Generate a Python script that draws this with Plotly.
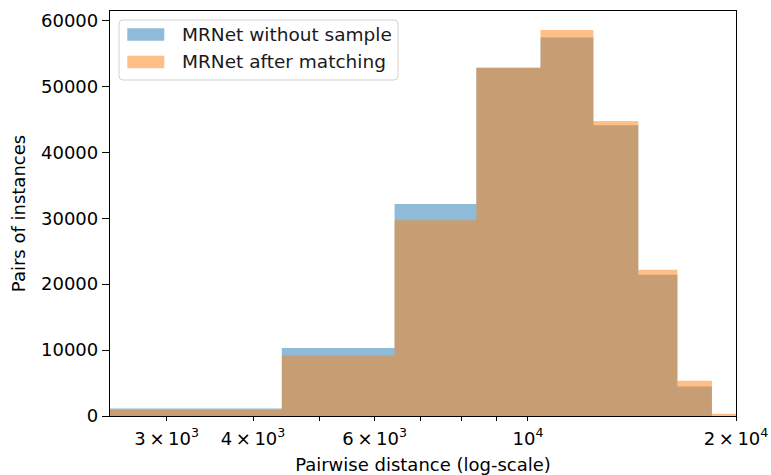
import plotly.graph_objects as go

# Histogram bin edges (linear bins, shown on a log x-axis)
bin_edges = [2395, 4403, 6411, 8419, 10427, 12435, 14443, 16451, 18459, 20467]
without_sample = [1150, 10300, 32170, 52820, 57420, 44090, 21410, 4480, 0]
after_matching = [910, 9180, 29700, 52820, 58530, 44740, 22170, 5350, 350]

series_names = ["MRNet without sample", "MRNet after matching"]
x_tick_vals = [3000, 4000, 6000, 10000, 20000]
x_tick_text = ["3\u2009×\u200910<sup>3</sup>", "4\u2009×\u200910<sup>3</sup>",
               "6\u2009×\u200910<sup>3</sup>", "10<sup>4</sup>",
               "2\u2009×\u200910<sup>4</sup>"]
x_minor_vals = [5000, 7000, 8000, 9000]
y_tick_vals = [0, 10000, 20000, 30000, 40000, 50000, 60000]

FONT = "DejaVu Sans"
BLUE = "rgba(31,119,180,0.5)"
ORANGE = "rgba(255,127,14,0.5)"

# plot-area geometry in pixels (for the hand-drawn legend)
L, R, T, B = 110, 736, 11, 416
W, H = R - L, B - T


def px(x):
    return (x - L) / W


def py(y):
    return (B - y) / H


fig = go.Figure()
fig.add_trace(go.Scatter(
    x=bin_edges, y=without_sample + [without_sample[-1]],
    mode="lines", line=dict(shape="hv", width=0, color=BLUE),
    fill="tozeroy", fillcolor=BLUE, name=series_names[0], showlegend=False,
))
fig.add_trace(go.Scatter(
    x=bin_edges, y=after_matching + [after_matching[-1]],
    mode="lines", line=dict(shape="hv", width=0, color=ORANGE),
    fill="tozeroy", fillcolor=ORANGE, name=series_names[1], showlegend=False,
))

# legend frame (rounded rectangle)
bx0, bx1, by0, by1, r = 119, 398, 20, 80, 4
path = (f"M {px(bx0 + r)},{py(by0)} L {px(bx1 - r)},{py(by0)} "
        f"Q {px(bx1)},{py(by0)} {px(bx1)},{py(by0 + r)} "
        f"L {px(bx1)},{py(by1 - r)} Q {px(bx1)},{py(by1)} {px(bx1 - r)},{py(by1)} "
        f"L {px(bx0 + r)},{py(by1)} Q {px(bx0)},{py(by1)} {px(bx0)},{py(by1 - r)} "
        f"L {px(bx0)},{py(by0 + r)} Q {px(bx0)},{py(by0)} {px(bx0 + r)},{py(by0)} Z")
shapes = [dict(type="path", xref="paper", yref="paper", path=path,
               fillcolor="rgba(255,255,255,0.85)", line=dict(color="#d2d2d2", width=1))]
annotations = []
for i, (name, col) in enumerate(zip(series_names, [BLUE, ORANGE])):
    cy = 34.5 + i * 27.5
    shapes.append(dict(type="rect", xref="paper", yref="paper",
                       x0=px(127.3), x1=px(164.3), y0=py(cy - 6.2), y1=py(cy + 6.2),
                       fillcolor=col, line=dict(width=0)))
    annotations.append(dict(x=px(180), y=py(cy), xref="paper", yref="paper",
                            xanchor="left", yanchor="middle", showarrow=False,
                            text=name, font=dict(family=FONT, size=18.5, color="#1a1a1a")))

fig.update_layout(
    width=771, height=475,
    margin=dict(l=L, r=771 - R, t=T, b=475 - B),
    paper_bgcolor="white", plot_bgcolor="white",
    font=dict(family=FONT, size=18, color="black"),
    showlegend=False,
    shapes=shapes, annotations=annotations,
    xaxis=dict(
        type="log", automargin=False,
        range=[3.39509, 4.30103],
        tickmode="array", tickvals=x_tick_vals, ticktext=x_tick_text,
        ticks="outside", ticklen=4, tickwidth=1.3, tickcolor="black",
        ticklabelstandoff=2,
        minor=dict(tickmode="array", tickvals=x_minor_vals, ticks="outside",
                   ticklen=4, tickwidth=1.1, tickcolor="black"),
        showline=True, linecolor="black", linewidth=1.3, mirror=True,
        showgrid=False, zeroline=False,
        title=dict(text="Pairwise distance (log-scale)", standoff=10,
                   font=dict(family=FONT, size=18)),
        tickfont=dict(family=FONT, size=18),
    ),
    yaxis=dict(
        automargin=False,
        range=[0, 61425],
        tickmode="array", tickvals=y_tick_vals,
        ticktext=[str(v) for v in y_tick_vals],
        ticks="outside", ticklen=7, tickwidth=1.3, tickcolor="black",
        showline=True, linecolor="black", linewidth=1.3, mirror=True,
        showgrid=False, zeroline=False,
        title=dict(text="Pairs of instances", standoff=10,
                   font=dict(family=FONT, size=18)),
        tickfont=dict(family=FONT, size=18),
    ),
)

fig.write_html("out.html")
